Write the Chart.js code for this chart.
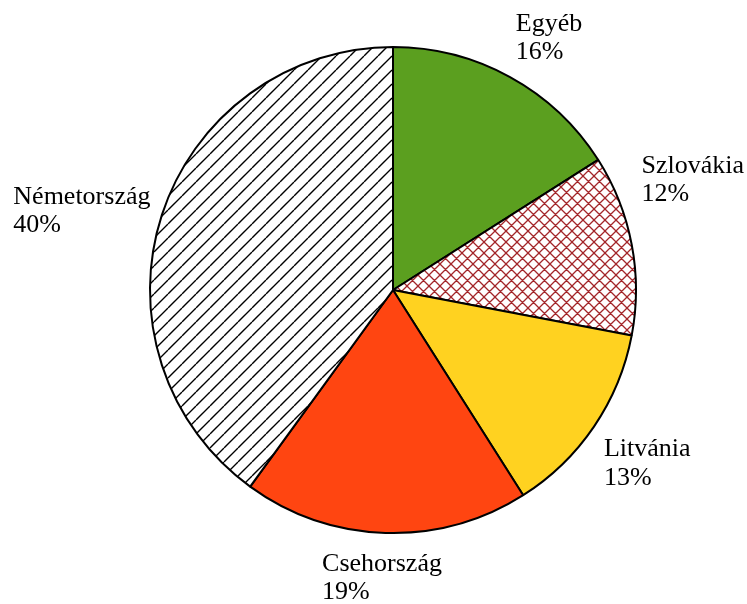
<!DOCTYPE html>
<html>
<head>
<meta charset="utf-8">
<script src="https://cdn.jsdelivr.net/npm/chart.js@4/dist/chart.umd.min.js"></script>
<style>
  html, body { margin: 0; padding: 0; background: #fff; }
  #wrap { width: 747px; height: 604px; }
</style>
</head>
<body>
<div id="wrap"><canvas id="pie"></canvas></div>
<script>
// Slice order: clockwise from 12 o'clock, as in the reference.
const countries = ['Egyéb', 'Szlovákia', 'Litvánia', 'Csehország', 'Németország'];
const shares = [16, 12, 13, 19, 40];

// Label nudges (px) where the original tool shifted a label off the slice's mid-angle.
const labelNudgeX = [0, -2, 0, -3, 0];
const labelNudgeY = [0, -62, 2, 5, 0];

function hatchPattern(size, color, lineWidth, cross) {
  const c = document.createElement('canvas');
  c.width = size;
  c.height = size;
  const g = c.getContext('2d');
  g.fillStyle = '#ffffff';
  g.fillRect(0, 0, size, size);
  g.strokeStyle = color;
  g.lineWidth = lineWidth;
  g.beginPath();
  // "/" lines, including the corner pieces so tiles join up
  for (const off of [-size, 0, size]) {
    g.moveTo(off, size);
    g.lineTo(off + size, 0);
  }
  if (cross) {
    for (const off of [-size, 0, size]) {
      g.moveTo(off, 0);
      g.lineTo(off + size, size);
    }
  }
  g.stroke();
  return g.createPattern(c, 'repeat');
}

const fills = [
  '#5b9f1f',
  hatchPattern(11, '#a3262a', 1.3, true),
  '#ffd220',
  '#ff4511',
  hatchPattern(14, '#000000', 1.4, false)
];

// Draws "name\nNN%" outside each slice.
const outsideLabels = {
  id: 'outsideLabels',
  afterDatasetsDraw(chart) {
    const ctx = chart.ctx;
    const meta = chart.getDatasetMeta(0);
    const lineH = 28.5;
    const ascent = 21;
    ctx.save();
    ctx.font = '26px "Liberation Serif", "Times New Roman", serif';
    ctx.fillStyle = '#000';
    ctx.textBaseline = 'alphabetic';
    ctx.textAlign = 'left';
    meta.data.forEach((arc, i) => {
      const mid = (arc.startAngle + arc.endAngle) / 2;
      const dx = Math.cos(mid), dy = Math.sin(mid);
      const r = arc.outerRadius + 12;
      const ax = arc.x + dx * r + labelNudgeX[i];
      const ay = arc.y + dy * r + labelNudgeY[i];
      const lines = [countries[i], shares[i] + '%'];
      const blockH = lineH * lines.length;
      let top;
      if (dy < -0.5) top = ay - blockH;
      else if (dy > 0.5) top = ay;
      else top = ay - blockH / 2;
      const w = Math.max(...lines.map((t) => ctx.measureText(t).width));
      let left;
      if (Math.abs(dx) < 0.2) left = ax - w / 2;
      else if (dx > 0) left = ax;
      else left = ax - w;
      lines.forEach((t, k) => ctx.fillText(t, left, top + ascent + lineH * k));
    });
    ctx.restore();
  }
};

new Chart(document.getElementById('pie'), {
  type: 'pie',
  data: {
    labels: countries,
    datasets: [{
      data: shares,
      backgroundColor: fills,
      borderColor: '#000000',
      borderWidth: 2
    }]
  },
  options: {
    responsive: true,
    maintainAspectRatio: false,
    animation: false,
    layout: { padding: { left: 149, right: 110, top: 46, bottom: 70 } },
    plugins: {
      legend: { display: false },
      tooltip: { enabled: false }
    }
  },
  plugins: [outsideLabels]
});
</script>
</body>
</html>
